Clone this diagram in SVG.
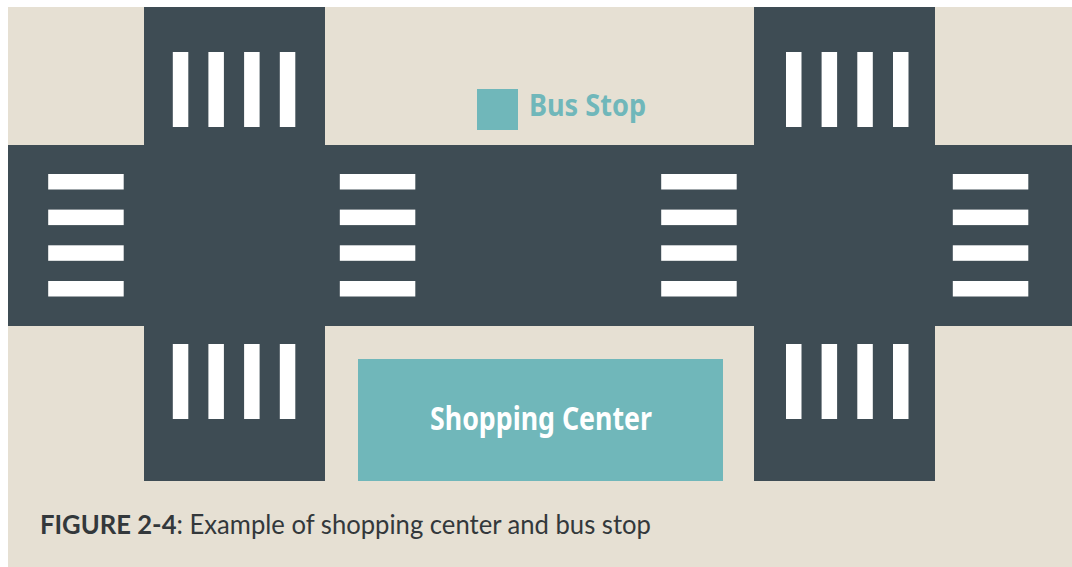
<svg xmlns="http://www.w3.org/2000/svg" width="1072" height="567" viewBox="0 0 1072 567">
<style>
.road{fill:#3e4c54}.s{fill:#fff}.teal{fill:#70b7ba}
text{font-family:"Noto Sans","Open Sans",sans-serif}
.cap{font-family:Lato,"Open Sans",sans-serif;font-size:27px;fill:#33383b}
</style>
<defs>
<g id="v"><rect class="s" x="0" width="15.500000000000000" height="75"/><rect class="s" x="35.600000000000001" width="15.500000000000000" height="75"/><rect class="s" x="71.300000000000004" width="15.500000000000000" height="75"/><rect class="s" x="107" width="15.500000000000000" height="75"/></g>
<g id="h"><rect class="s" y="0" width="75.500000000000000" height="15.500000000000000"/><rect class="s" y="35.600000000000001" width="75.500000000000000" height="15.500000000000000"/><rect class="s" y="71.300000000000004" width="75.500000000000000" height="15.500000000000000"/><rect class="s" y="107" width="75.500000000000000" height="15.500000000000000"/></g>
</defs>
<rect width="1072" height="567" fill="#fff"/>
<rect x="8" y="7" width="1064" height="561" fill="#e6e0d3"/>
<g id="roads">
<rect class="road" x="8" y="145" width="1064" height="181"/>
<rect class="road" x="144" y="7" width="181" height="474"/>
<rect class="road" x="754" y="7" width="181" height="474"/>
</g>
<g id="crossings">
<use href="#v" x="172.8" y="52"/><use href="#v" x="786" y="52"/>
<use href="#v" x="172.8" y="344"/><use href="#v" x="786" y="344"/>
<use href="#h" x="48.2" y="174"/><use href="#h" x="339.8" y="174"/><use href="#h" x="661.2" y="174"/><use href="#h" x="952.8" y="174"/>
</g>
<g id="bus-stop">
<rect class="teal" x="477" y="89" width="41" height="41"/>
<text x="529" y="116" font-size="31" font-weight="700" fill="#70b7ba" textLength="117" lengthAdjust="spacingAndGlyphs">Bus Stop</text>
</g>
<g id="shopping-center">
<rect class="teal" x="358" y="359" width="365" height="122"/>
<text x="430" y="430" font-size="32" font-weight="700" fill="#fff" textLength="222" lengthAdjust="spacingAndGlyphs">Shopping Center</text>
</g>
<g id="caption">
<text class="cap" x="40" y="534" textLength="611" lengthAdjust="spacingAndGlyphs"><tspan font-weight="700">FIGURE 2-4</tspan>: Example of shopping center and bus stop</text>
</g>
</svg>
